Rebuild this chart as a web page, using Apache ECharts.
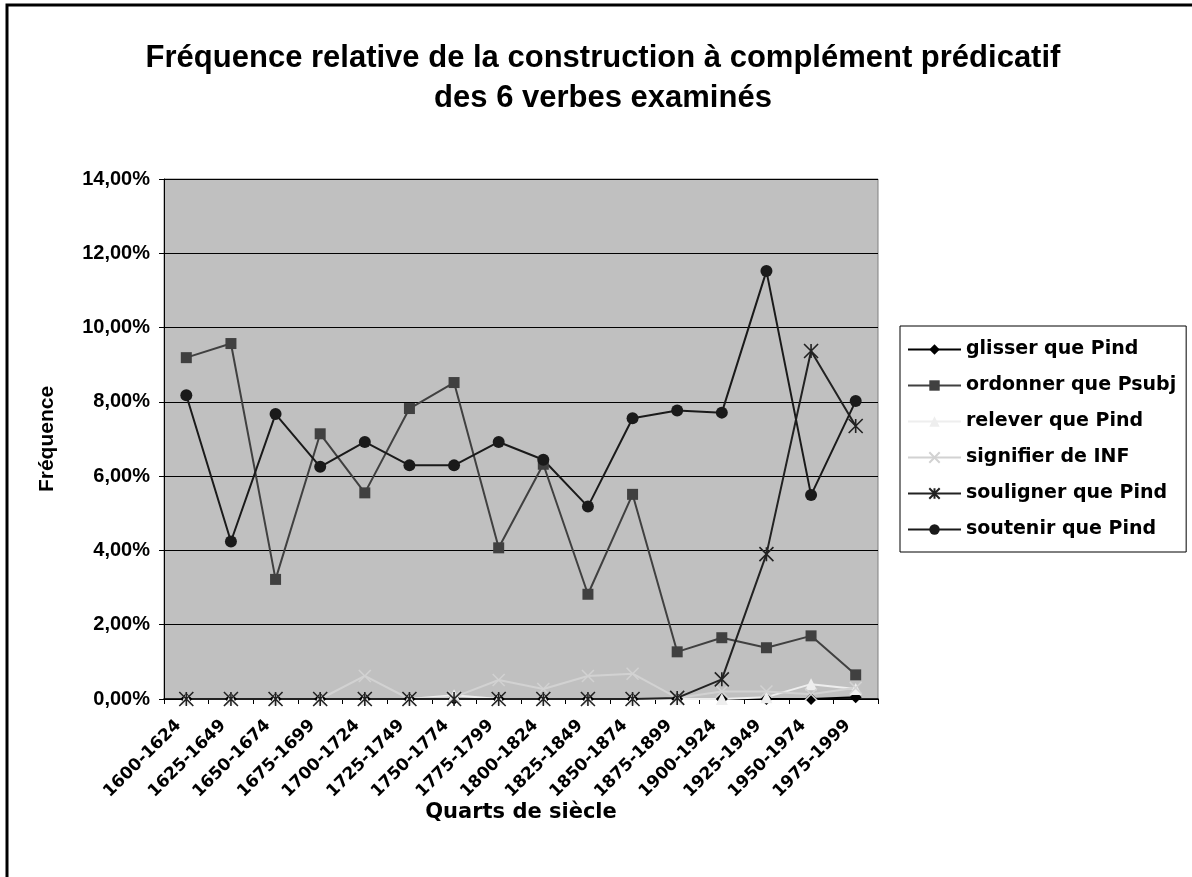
<!DOCTYPE html>
<html>
<head>
<meta charset="utf-8">
<script src="https://cdn.jsdelivr.net/npm/echarts@6/dist/echarts.min.js"></script>
<style>
html,body{margin:0;padding:0;background:#fff;}
#chart{width:1192px;height:877px;}
</style>
</head>
<body>
<div id="chart"></div>
<script>
// ---- data (values in %) ----
const categories = ['1600-1624','1625-1649','1650-1674','1675-1699','1700-1724','1725-1749','1750-1774','1775-1799','1800-1824','1825-1849','1850-1874','1875-1899','1900-1924','1925-1949','1950-1974','1975-1999'];
const glisser   = [0,0,0,0,0,0,0,0,0,0,0,0,0,0,0,0.05];
const ordonner  = [9.19,9.57,3.22,7.14,5.55,7.82,8.52,4.07,6.32,2.82,5.51,1.27,1.65,1.38,1.70,0.65];
const relever   = [0,0,0,0,0,0,0.10,0,0,0,0,0,0,0.05,0.40,0.27];
const signifier = [0,0,0,0,0.62,0,0.05,0.51,0.27,0.62,0.68,0.03,0.20,0.20,0.13,0.30];
const souligner = [0,0,0,0,0,0,0,0,0,0,0,0.03,0.53,3.90,9.37,7.35];
const soutenir  = [8.18,4.24,7.67,6.25,6.92,6.29,6.29,6.92,6.44,5.18,7.56,7.77,7.71,11.52,5.49,8.02];
const yTicks = {min:0, max:14, interval:2};
const xAxisTitle = 'Quarts de siècle';

const ARIAL = '"Liberation Sans", Arial, sans-serif';
const WIDE = '"DejaVu Sans", sans-serif';

const chart = echarts.init(document.getElementById('chart'));

function mk(name, data, color, symbol, size, extra) {
  return Object.assign({
    name: name,
    type: 'line',
    data: data,
    symbol: symbol,
    symbolSize: size,
    showAllSymbol: true,
    animation: false,
    lineStyle: {color: color, width: 2},
    itemStyle: {color: color, borderColor: color, borderWidth: 0}
  }, extra || {});
}

const xPath = 'path://M0,0 L10,10 M10,0 L0,10';
const starPath = 'path://M0,0 L10,10 M10,0 L0,10 M5,0 L5,10';

chart.setOption({
  backgroundColor: '#ffffff',
  animation: false,
  title: {
    text: 'Fréquence relative de la construction à complément prédicatif\ndes 6 verbes examinés',
    left: 598,
    top: 33,
    textAlign: 'center',
    textStyle: {fontFamily: ARIAL, fontSize: 31, fontWeight: 'bold', color: '#000', lineHeight: 40}
  },
  graphic: [{
    type: 'rect',
    shape: {x: 7, y: 5, width: 1300, height: 1000},
    style: {fill: 'none', stroke: '#000', lineWidth: 3},
    silent: true
  }, {
    type: 'text',
    x: 521, y: 813,
    style: {text: xAxisTitle, fontFamily: WIDE, fontSize: 21, fontWeight: 'bold', fill: '#000', align: 'center', verticalAlign: 'middle'},
    silent: true
  }],
  legend: {
    orient: 'vertical',
    left: 900,
    top: 326,
    width: 289,
    padding: [14, 10, 13, 7],
    itemGap: 17,
    itemWidth: 53,
    itemHeight: 13,
    backgroundColor: '#ffffff',
    borderColor: '#000',
    borderWidth: 1,
    textStyle: {fontFamily: WIDE, fontSize: 19, fontWeight: 'bold', color: '#000', width: 218},
    data: ['glisser que Pind','ordonner que Psubj','relever que Pind','signifier de INF','souligner que Pind','soutenir que Pind']
  },
  grid: {
    left: 164, top: 179, width: 714, height: 520,
    show: true, backgroundColor: '#c0c0c0', borderColor: '#808080', borderWidth: 1
  },
  xAxis: {
    type: 'category',
    data: categories,
    boundaryGap: true,
    axisLine: {lineStyle: {color: '#000', width: 1.5}},
    axisTick: {show: true, length: 5, lineStyle: {color: '#000'}},
    axisLabel: {interval: 0, rotate: 45, margin: 16, padding: [0, 11, 0, 0], fontFamily: WIDE, fontSize: 17, fontWeight: 'bold', color: '#000'},
    splitLine: {show: false}
  },
  yAxis: {
    type: 'value',
    min: yTicks.min, max: yTicks.max, interval: yTicks.interval,
    name: 'Fréquence',
    nameLocation: 'middle',
    nameGap: 106,
    nameTextStyle: {fontFamily: ARIAL, fontSize: 21, fontWeight: 'bold', color: '#000'},
    axisLine: {show: true, lineStyle: {color: '#000', width: 1}},
    axisTick: {show: true, length: 5, lineStyle: {color: '#000'}},
    axisLabel: {
      margin: 14,
      fontFamily: ARIAL, fontSize: 20, fontWeight: 'bold', color: '#000',
      formatter: v => v.toFixed(2).replace('.', ',') + '%'
    },
    splitLine: {show: true, lineStyle: {color: '#000', width: 1}}
  },
  series: [
    mk('glisser que Pind', glisser, '#000000', 'diamond', 12),
    mk('ordonner que Psubj', ordonner, '#404040', 'rect', 11),
    mk('relever que Pind', relever, '#eeeeee', 'triangle', 12),
    mk('signifier de INF', signifier, '#d2d2d2', xPath, 12, {itemStyle: {color: '#d2d2d2', borderColor: '#d2d2d2', borderWidth: 1.5}}),
    mk('souligner que Pind', souligner, '#222222', starPath, 14, {itemStyle: {color: '#222222', borderColor: '#222222', borderWidth: 1.6}}),
    mk('soutenir que Pind', soutenir, '#1a1a1a', 'circle', 12)
  ]
});
</script>
</body>
</html>
